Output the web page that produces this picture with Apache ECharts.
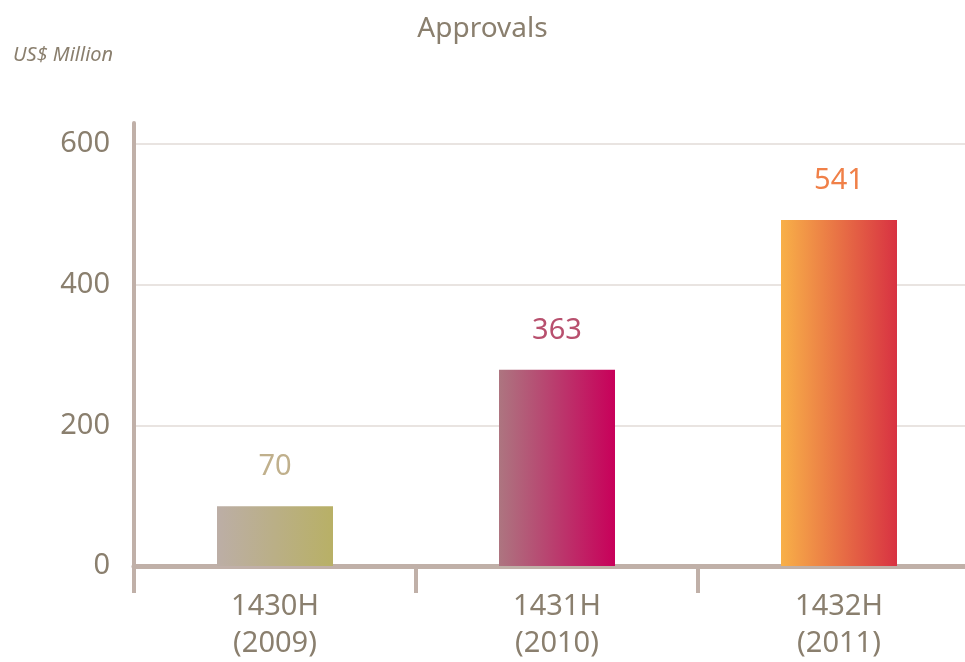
<!DOCTYPE html>
<html>
<head>
<meta charset="utf-8">
<script src="https://cdn.jsdelivr.net/npm/echarts@6/dist/echarts.min.js"></script>
<style>
  html, body { margin: 0; padding: 0; background: #fff; }
  #main { width: 965px; height: 662px; }
</style>
</head>
<body>
<div id="main"></div>
<script>
// categories and values
var categories = ['1430H\n(2009)', '1431H\n(2010)', '1432H\n(2011)'];
var barValues = [85, 279, 492];          // bar heights as drawn
var labelValues = [70, 363, 541];        // numbers printed above the bars
var yTicks = [0, 200, 400, 600];

// gradient colours per bar (left -> right) and label colours
var barColors = [
  ['#bcaea6', '#b8b066'],
  ['#ad7580', '#c8005a'],
  ['#f8b048', '#d83242']
];
var labelColors = ['#c0b08c', '#b8506e', '#f08048'];

var textColor = '#8a7f6e';
var axisColor = '#c0b0a8';
var font = '"Noto Sans", "Open Sans", sans-serif';

var myChart = echarts.init(document.getElementById('main'));

var data = barValues.map(function (v, i) {
  return {
    value: v,
    itemStyle: {
      color: new echarts.graphic.LinearGradient(0, 0, 1, 0, [
        { offset: 0, color: barColors[i][0] },
        { offset: 1, color: barColors[i][1] }
      ])
    },
    label: { color: labelColors[i] }
  };
});

var option = {
  animation: false,
  title: [
    {
      text: 'Approvals',
      left: 'center',
      top: 10,
      textStyle: { color: textColor, fontSize: 28, fontWeight: 'normal', fontFamily: font }
    },
    {
      text: 'US$ Million',
      left: 8,
      top: 40,
      textStyle: { color: textColor, fontSize: 20, fontStyle: 'italic', fontWeight: 'normal', fontFamily: font }
    }
  ],
  grid: {
    left: 134,
    right: -15,
    top: 123,
    bottom: 96,
    containLabel: false,
    outerBoundsMode: 'none'
  },
  xAxis: {
    type: 'category',
    data: categories,
    axisLine: { show: true, lineStyle: { color: axisColor, width: 5 } },
    axisTick: { show: true, length: 27, alignWithLabel: false, lineStyle: { color: axisColor, width: 4 } },
    axisLabel: {
      color: textColor,
      fontSize: 29,
      lineHeight: 37,
      margin: 22,
      fontFamily: font
    },
    splitLine: { show: false }
  },
  yAxis: {
    type: 'value',
    min: 0,
    max: 630,
    interval: 200,
    axisLine: { show: true, lineStyle: { color: axisColor, width: 4 } },
    axisTick: { show: false },
    axisLabel: {
      color: textColor,
      fontSize: 29,
      margin: 24,
      fontFamily: font,
      showMaxLabel: false,
      formatter: function (v) { return yTicks.indexOf(v) >= 0 ? String(v) : ''; }
    },
    splitLine: { show: true, showMaxLine: false, lineStyle: { color: '#e2dbd7', width: 1.5 } }
  },
  series: [
    {
      type: 'bar',
      barWidth: 116,
      data: data,
      z: 1,
      label: {
        show: true,
        position: 'top',
        distance: 25,
        fontSize: 29,
        fontFamily: font,
        formatter: function (p) { return String(labelValues[p.dataIndex]); }
      }
    }
  ]
};

myChart.setOption(option);
window.addEventListener('resize', function () {
  myChart.resize();
});
</script>
</body>
</html>
